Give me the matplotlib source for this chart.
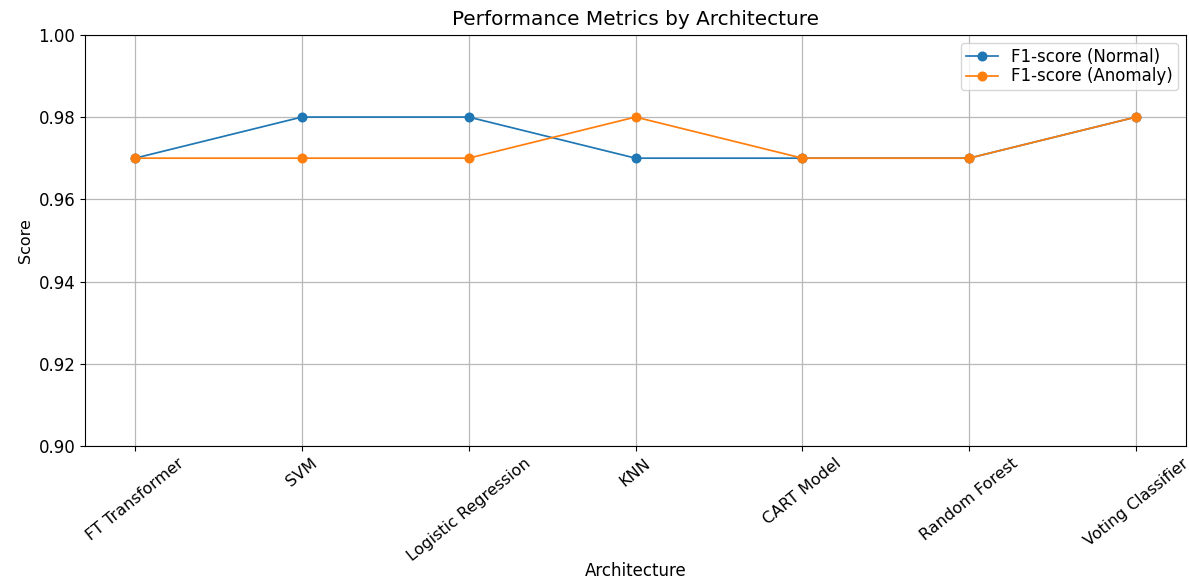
import matplotlib
matplotlib.use("Agg")
import matplotlib.pyplot as plt

architectures = ["FT Transformer", "SVM", "Logistic Regression", "KNN",
                 "CART Model", "Random Forest", "Voting Classifier"]
f1_normal = [0.97, 0.98, 0.98, 0.97, 0.97, 0.97, 0.98]
f1_anomaly = [0.97, 0.97, 0.97, 0.98, 0.97, 0.97, 0.98]

fig = plt.figure(figsize=(11.89, 5.80), dpi=100)
ax = fig.add_axes([0.0715, 0.231, 0.926, 0.709])

line_kw = dict(marker="o", linewidth=1.25, markersize=6.2)
ax.plot(architectures, f1_normal, color="#1f77b4", label="F1-score (Normal)", **line_kw)
ax.plot(architectures, f1_anomaly, color="#ff7f0e", label="F1-score (Anomaly)", **line_kw)

ax.set_ylim(0.90, 1.00)
ax.set_title("Performance Metrics by Architecture", fontsize=14.4, pad=7)
ax.set_xlabel("Architecture", fontsize=12)
ax.set_ylabel("Score", fontsize=11.5)
ax.xaxis.set_label_coords(0.5, -0.283)
ax.tick_params(axis="x", labelrotation=39, labelsize=11.5)
ax.tick_params(axis="y", labelsize=12)
ax.grid(True, color="#b8b8b8", linewidth=0.9)
ax.legend(loc="upper right", fontsize=12, labelspacing=0.08,
          borderpad=0.3, handlelength=1.9)

fig.savefig("out.png", dpi=100)
